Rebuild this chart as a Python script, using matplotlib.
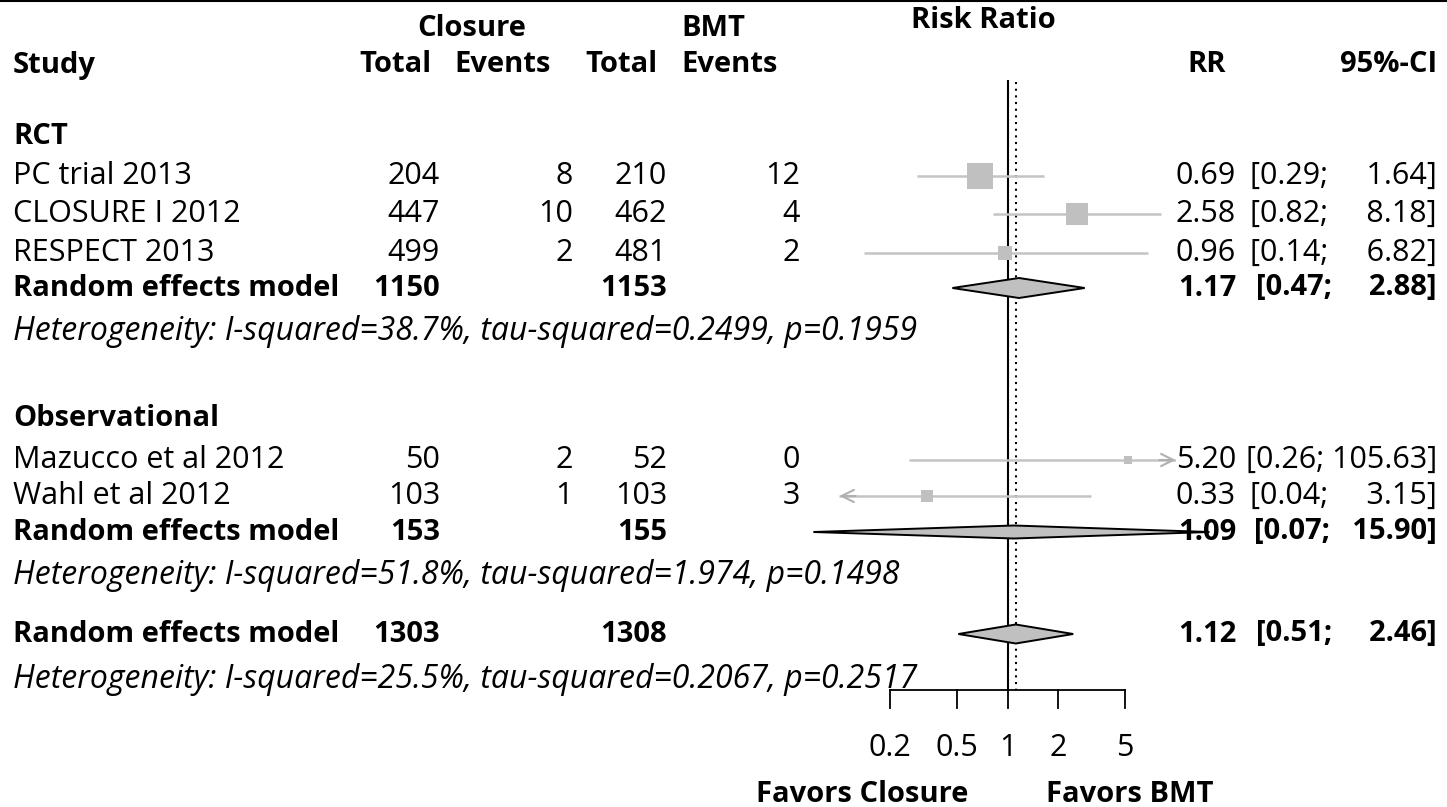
import matplotlib
matplotlib.use('Agg')
import matplotlib.pyplot as plt
import matplotlib.transforms as mtransforms
from matplotlib.lines import Line2D
import numpy as np

plt.rcParams['font.family'] = ['Open Sans', 'DejaVu Sans']

# Study level data
studies = ['PC trial 2013', 'CLOSURE I 2012', 'RESPECT 2013', 'Mazucco et al 2012', 'Wahl et al 2012']
closure_total = [204, 447, 499, 50, 103]
closure_events = [8, 10, 2, 2, 1]
bmt_total = [210, 462, 481, 52, 103]
bmt_events = [12, 4, 2, 0, 3]
rr = [0.69, 2.58, 0.96, 5.20, 0.33]
ci_low = [0.29, 0.82, 0.14, 0.26, 0.04]
ci_high = [1.64, 8.18, 6.82, 105.63, 3.15]
weights = [42.8, 30.6, 12.4, 5.1, 9.1]

# Pooled estimates (RCT, Observational, overall)
pool_rr = [1.17, 1.09, 1.12]
pool_low = [0.47, 0.07, 0.51]
pool_high = [2.88, 15.90, 2.46]
pool_closure_total = [1150, 153, 1303]
pool_bmt_total = [1153, 155, 1308]
het_i2 = ['38.7%', '51.8%', '25.5%']
het_tau2 = ['0.2499', '1.974', '0.2067']
het_p = ['0.1959', '0.1498', '0.2517']

group_names = ['RCT', 'Observational']
tick_values = [0.2, 0.5, 1, 2, 5]

W, H = 1447, 807
fig = plt.figure(figsize=(W / 100, H / 100), dpi=100)

# forest panel: x in log RR, y in pixel rows from the top
ax_left, ax_right = 839.4, 1175.6
ax = fig.add_axes([ax_left / W, 0, (ax_right - ax_left) / W, 1])
ax.set_xscale('log')
ax.set_xlim(0.1, 10)
ax.set_ylim(H, 0)
ax.axis('off')

# row layout (pixels from top)
y_group = [137, 418]
y_study = [176, 214, 253, 460, 496]
y_pool = [288, 532, 634]
y_het = [331, 576, 680]
y_axis = 690

# text column positions (pixels)
x_study = 13
x_ctot, x_cev, x_btot, x_bev = 440, 573, 667, 800
x_rr, x_ci = 1236, 1437

trans = mtransforms.blended_transform_factory(fig.transFigure, ax.transData)
fs_reg, fs_bold, fs_it = 22, 21, 23


def txt(x, y, s, ha='left', weight='normal', style='normal'):
    if style == 'italic':
        size = fs_it
    elif weight == 'bold':
        size = fs_bold
    else:
        size = fs_reg
    ax.text(x / W, y, s, transform=trans, ha=ha, va='center', fontsize=size,
            fontweight=weight, fontstyle=style, color='black', clip_on=False)


def fmt_ci(lo, hi):
    hs = f'{hi:.2f}'
    pad = '\u2002' * (6 - len(hs))
    return f'[{lo:.2f}; {pad}{hs}]'


# headers
txt(472, 28, 'Closure', ha='center', weight='bold')
txt(713, 28, 'BMT', ha='center', weight='bold')
txt(983, 20, 'Risk Ratio', ha='center', weight='bold')
txt(x_study, 65, 'Study', weight='bold')
txt(432, 65, 'Total', ha='right', weight='bold')
txt(551, 65, 'Events', ha='right', weight='bold')
txt(658, 65, 'Total', ha='right', weight='bold')
txt(778, 65, 'Events', ha='right', weight='bold')
txt(1226, 65, 'RR', ha='right', weight='bold')
txt(x_ci, 65, '95%-CI', ha='right', weight='bold')

for g, y in zip(group_names, y_group):
    txt(x_study, y, g, weight='bold')

# study rows
for i, name in enumerate(studies):
    y = y_study[i]
    txt(x_study, y, name)
    txt(x_ctot, y, str(closure_total[i]), ha='right')
    txt(x_cev, y, str(closure_events[i]), ha='right')
    txt(x_btot, y, str(bmt_total[i]), ha='right')
    txt(x_bev, y, str(bmt_events[i]), ha='right')
    txt(x_rr, y, f'{rr[i]:.2f}', ha='right')
    txt(x_ci, y, fmt_ci(ci_low[i], ci_high[i]), ha='right')

    lo = max(ci_low[i], 0.1)
    hi = min(ci_high[i], 10)
    ax.plot([lo, hi], [y, y], color='#c4c4c4', lw=1.8, solid_capstyle='butt', zorder=2)
    if ci_low[i] < 0.1:
        ax.annotate('', xy=(0.1, y), xytext=(0.125, y),
                    arrowprops=dict(arrowstyle='->', color='#b0b0b0', lw=1.5,
                                    mutation_scale=22, shrinkA=0, shrinkB=0))
    if ci_high[i] > 10:
        ax.annotate('', xy=(10, y), xytext=(8, y),
                    arrowprops=dict(arrowstyle='->', color='#b0b0b0', lw=1.5,
                                    mutation_scale=22, shrinkA=0, shrinkB=0))
    side_px = 3.97 * np.sqrt(weights[i])
    ax.plot(rr[i], y, marker='s', markersize=side_px * 0.72, color='#c0c0c0',
            markeredgewidth=0, zorder=3)

# pooled rows
diamond_half = [10, 6.5, 9.5]
for j in range(3):
    y = y_pool[j]
    txt(x_study, y, 'Random effects model', weight='bold')
    txt(x_ctot, y, str(pool_closure_total[j]), ha='right', weight='bold')
    txt(x_btot, y, str(pool_bmt_total[j]), ha='right', weight='bold')
    txt(x_rr, y, f'{pool_rr[j]:.2f}', ha='right', weight='bold')
    txt(x_ci, y, fmt_ci(pool_low[j], pool_high[j]), ha='right', weight='bold')
    h = diamond_half[j]
    ax.fill([pool_low[j], pool_rr[j], pool_high[j], pool_rr[j]],
            [y, y - h, y, y + h], facecolor='#c0c0c0', edgecolor='black',
            lw=1.4, zorder=4, clip_on=False)
    txt(x_study, y_het[j],
        f'Heterogeneity: I-squared={het_i2[j]}, tau-squared={het_tau2[j]}, p={het_p[j]}',
        style='italic')

# reference lines
ax.vlines(1, 80, y_axis, color='black', lw=1.5, zorder=1)
ax.vlines(pool_rr[2], 82, y_axis, color='black', lw=1.5, linestyles=(0, (1, 2.2)), zorder=1)

# x axis drawn by hand
ax.plot([tick_values[0], tick_values[-1]], [y_axis, y_axis], color='black', lw=1.3)
for t in tick_values:
    ax.plot([t, t], [y_axis, y_axis + 18], color='black', lw=1.3)
    ax.text(t, 748, f'{t:g}', ha='center', va='center', fontsize=fs_reg)

txt(862, 795, 'Favors Closure', ha='center', weight='bold')
txt(1130, 795, 'Favors BMT', ha='center', weight='bold')

fig.add_artist(Line2D([0, 1], [1 - 1 / H, 1 - 1 / H], transform=fig.transFigure,
                      color='black', lw=1.5))

fig.savefig('out.png', dpi=100)
